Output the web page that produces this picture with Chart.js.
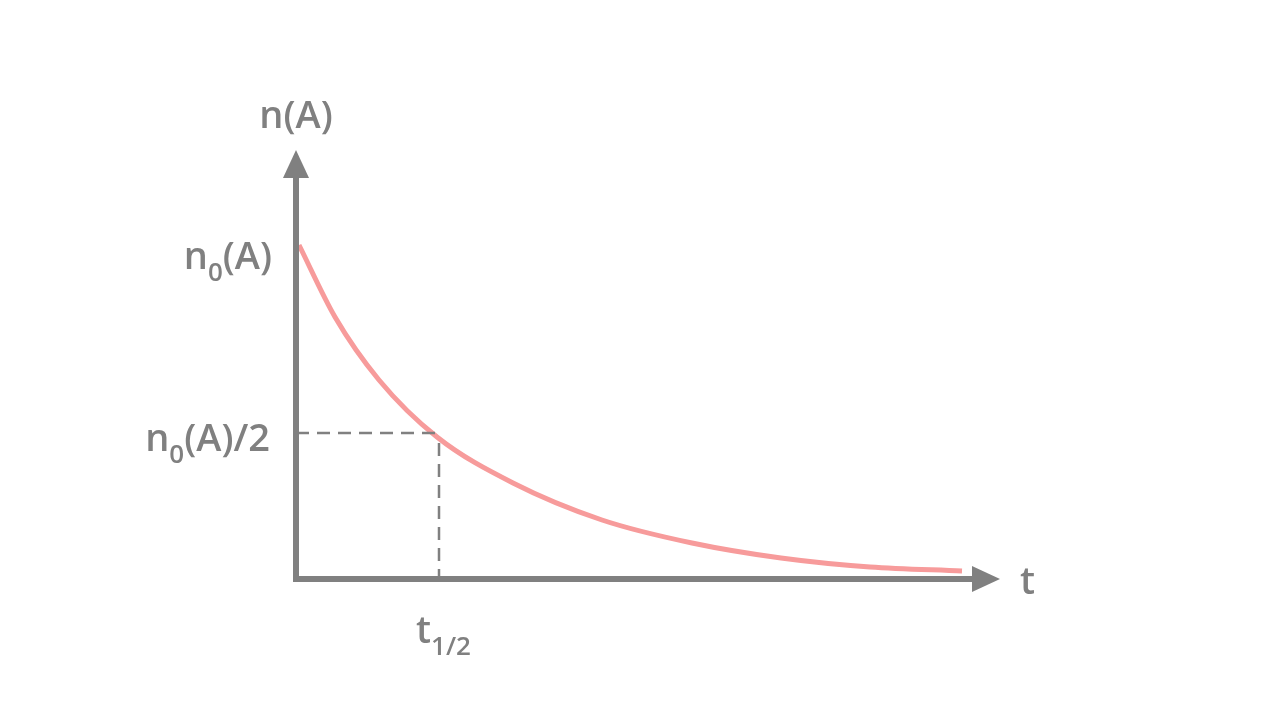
<!DOCTYPE html>
<html><head><meta charset="utf-8">
<script src="https://cdn.jsdelivr.net/npm/chart.js@4"></script>
<style>html,body{margin:0;background:#fff}#w{width:1280px;height:720px}</style>
</head><body><div id="w"><canvas id="c"></canvas></div>
<script>
const timeValues = [3, 39, 83, 141, 217, 306, 396, 485, 574, 666];
const amountValues = [334, 262, 199, 142, 96, 59, 36, 21, 12, 8];
const n0Value = 328;
const halfValue = 146;
const halfTime = 143;
const xMax = 704, yMax = 429;
const gray = '#808080';

const deco = {
  id: 'deco',
  afterDatasetsDraw(chart) {
    const {ctx, scales: {x, y}} = chart;
    const x0 = x.getPixelForValue(0), y0 = y.getPixelForValue(0);
    const xe = x.getPixelForValue(xMax), ye = y.getPixelForValue(yMax);
    ctx.save();
    // dashed guides
    ctx.strokeStyle = gray; ctx.lineWidth = 2.5; ctx.setLineDash([13, 8]);
    const hx = x.getPixelForValue(halfTime), hy = y.getPixelForValue(halfValue);
    ctx.beginPath(); ctx.moveTo(x0, hy); ctx.lineTo(hx, hy); ctx.stroke();
    ctx.beginPath(); ctx.moveTo(hx, hy + 10); ctx.lineTo(hx, y0); ctx.stroke();
    ctx.setLineDash([]);
    // axes
    ctx.lineWidth = 6; ctx.lineCap = 'butt';
    ctx.beginPath(); ctx.moveTo(x0, y0 + 3); ctx.lineTo(x0, ye + 20); ctx.stroke();
    ctx.beginPath(); ctx.moveTo(x0 - 3, y0); ctx.lineTo(xe - 20, y0); ctx.stroke();
    ctx.fillStyle = gray;
    ctx.beginPath(); ctx.moveTo(x0, ye); ctx.lineTo(x0 - 13, ye + 28); ctx.lineTo(x0 + 13, ye + 28); ctx.closePath(); ctx.fill();
    ctx.beginPath(); ctx.moveTo(xe, y0); ctx.lineTo(xe - 28, y0 - 13); ctx.lineTo(xe - 28, y0 + 13); ctx.closePath(); ctx.fill();
    // texts
    const F = (s) => '600 ' + s + 'px "Open Sans"';
    ctx.textBaseline = 'alphabetic';
    ctx.font = F(38); ctx.textAlign = 'center';
    ctx.fillText('n(A)', x0, 128);
    ctx.textAlign = 'left';
    ctx.fillText('t', 1020, 594);
    function sub(main, s, rest, rightX, base) {
      ctx.font = F(38); const w1 = ctx.measureText(main).width;
      const w3 = rest ? ctx.measureText(rest).width : 0;
      ctx.font = F(26); const w2 = ctx.measureText(s).width;
      let sx = rightX - (w1 + w2 + w3);
      ctx.textAlign = 'left';
      ctx.font = F(38); ctx.fillText(main, sx, base);
      ctx.font = F(26); ctx.fillText(s, sx + w1, base + 12);
      if (rest) { ctx.font = F(38); ctx.fillText(rest, sx + w1 + w2, base); }
    }
    const ny = y.getPixelForValue(n0Value);
    sub('n', '0', '(A)', 272, ny + 18);
    sub('n', '0', '(A)/2', 270, hy + 18);
    ctx.font = F(38); const wt = ctx.measureText('t').width;
    ctx.font = F(26); const ws = ctx.measureText('1/2').width;
    sub('t', '1/2', '', hx - 23 + wt + ws, 643);
    ctx.restore();
  }
};

new Chart(document.getElementById('c'), {
  type: 'line',
  data: { datasets: [{
    data: timeValues.map((t, i) => ({x: t, y: amountValues[i]})),
    borderColor: '#f79b9b', borderWidth: 5, pointRadius: 0, tension: 0.4, fill: false,
    cubicInterpolationMode: 'monotone'
  }]},
  options: {
    responsive: true, maintainAspectRatio: false, animation: false,
    layout: { padding: { left: 296, right: 280, top: 150, bottom: 141 } },
    plugins: { legend: { display: false }, tooltip: { enabled: false } },
    scales: {
      x: { type: 'linear', min: 0, max: xMax, display: false },
      y: { min: 0, max: yMax, display: false }
    }
  },
  plugins: [deco]
});
</script></body></html>
